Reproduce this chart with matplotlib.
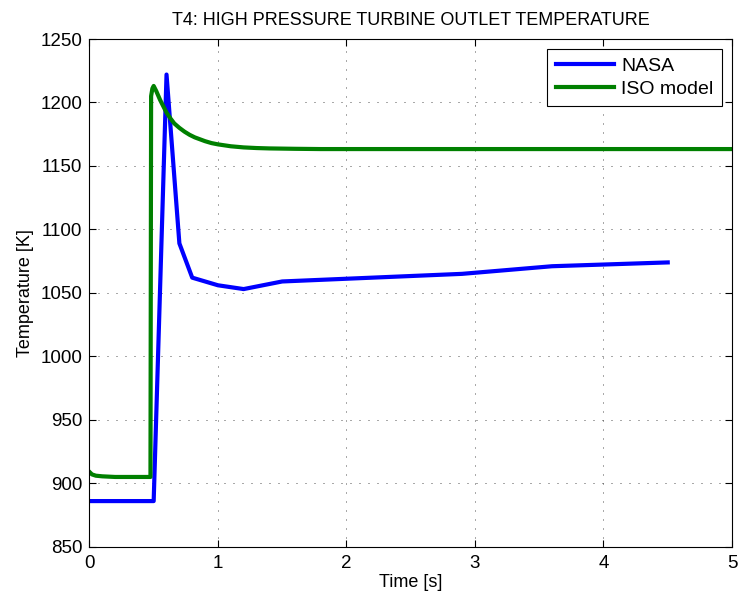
import matplotlib
matplotlib.use('Agg')
import matplotlib.pyplot as plt

plt.rcParams['font.family'] = ['Liberation Sans', 'DejaVu Sans']

# NASA reference response
t_nasa = [0.0, 0.5, 0.6, 0.7, 0.8, 1.0, 1.2, 1.5, 2.9, 3.6, 4.5]
T_nasa = [886, 886, 1222, 1089, 1062, 1056, 1053, 1059, 1065, 1071, 1074]

# ISO model response
t_iso = [0.0, 0.02, 0.05, 0.1, 0.2, 0.3, 0.4, 0.475, 0.48, 0.49, 0.5, 0.52,
         0.55, 0.58, 0.6, 0.63, 0.66, 0.7, 0.74, 0.78, 0.82, 0.86, 0.9, 0.95,
         1.0, 1.1, 1.2, 1.3, 1.4, 1.6, 1.8, 2.0, 3.0, 4.0, 5.0]
T_iso = [909, 907, 906, 905.5, 905, 905, 905, 905, 1205, 1211, 1213, 1209,
         1202, 1196, 1192, 1187.5, 1183.5, 1180, 1177, 1174.5, 1172.5, 1171,
         1169.5, 1168, 1167, 1165.5, 1164.6, 1164.1, 1163.8, 1163.5, 1163.3,
         1163.3, 1163.3, 1163.3, 1163.3]

fig = plt.figure(figsize=(7.39, 6.0), dpi=100)
ax = fig.add_axes([0.121, 0.0887, 0.8695, 0.8463])

ax.plot(t_nasa, T_nasa, color='#0000ff', lw=3, label='NASA')
ax.plot(t_iso, T_iso, color='#008000', lw=3, label='ISO model')

ax.set_xlim(0, 5)
ax.set_ylim(850, 1250)
ax.set_xticks([0, 1, 2, 3, 4, 5])
ax.set_yticks(range(850, 1251, 50))
ax.tick_params(direction='in', labelsize=13.5, length=5, top=True, right=True)
ax.tick_params(axis='y', pad=5)
ax.tick_params(axis='x', pad=6)
ax.grid(True, color='#333333', linestyle=(0, (1.2, 9.6)), linewidth=0.6)
for s in ax.spines.values():
    s.set_linewidth(0.8)

ax.set_xlabel('Time [s]', fontsize=13, labelpad=1)
ax.set_ylabel('Temperature [K]', fontsize=13, labelpad=5)
ax.set_title('T4: HIGH PRESSURE TURBINE OUTLET TEMPERATURE', fontsize=13, pad=10)

leg = ax.legend(loc='upper right', fontsize=14, fancybox=False, framealpha=1,
                edgecolor='black', handlelength=3.0, borderaxespad=0.5,
                labelspacing=0.25, handletextpad=0.35, borderpad=0.45)
leg.get_frame().set_linewidth(0.8)

fig.savefig('out.png', dpi=100)
